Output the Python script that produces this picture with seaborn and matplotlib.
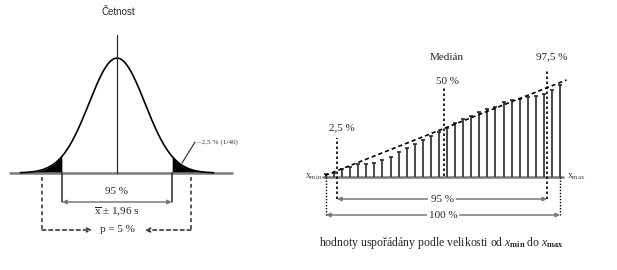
import numpy as np
import pandas as pd
import matplotlib
matplotlib.use("Agg")
import matplotlib.pyplot as plt
import seaborn as sns

# ---------------- data ----------------
# left panel: normal distribution (units of s around the mean)
curve_mean = 0.0
curve_sd = 1.0
z_crit = 1.96
tail_label = "– 2,5 % (1/40)"

# right panel: values ordered from x_min to x_max (stem heights)
stem_heights = [3, 4.3, 7.7, 10.3, 12.7, 13.3, 13.7, 16.7, 20.3, 25.2,
                28.7, 33, 37, 41.3, 45.3, 49.3, 54.3, 58.3, 61.5, 65.3,
                68, 69.7, 75.3, 77, 78.3, 79.7, 81, 83.3, 86.7, 92]
trend_x = [-0.12, 29.8]
trend_y = [1.5, 97]
pct_labels = ["2,5 %", "50 %", "97,5 %"]
pct_pos = [1.36, 14.66, 27.4]

# ---------------- style ----------------
sns.set_theme(style="white")
plt.rcParams['font.family'] = ['Liberation Serif', 'DejaVu Serif']
plt.rcParams['mathtext.fontset'] = 'custom'
plt.rcParams['mathtext.rm'] = 'Liberation Serif'
plt.rcParams['mathtext.it'] = 'Liberation Serif:italic'
plt.rcParams['mathtext.bf'] = 'Liberation Serif:bold'

GRAY = '#7a7a7a'
DARK = '#2a2a2a'

fig = plt.figure(figsize=(6.17, 2.70), dpi=100)

# ---------------- left panel ----------------
SX, SY = 28.0, 288.0          # pixels per unit
axL = fig.add_axes([0, 0, 240 / 617, 1])
axL.set_xlim(-117 / SX, 123 / SX)
axL.set_ylim((173 - 270) / SY, 173 / SY)
axL.axis('off')

z = np.linspace(-3.45, 3.45, 500)
pdf = np.exp(-0.5 * ((z - curve_mean) / curve_sd) ** 2) / (curve_sd * np.sqrt(2 * np.pi))
curve = pd.DataFrame({'z': z, 'f': pdf})
sns.lineplot(data=curve, x='z', y='f', ax=axL, color='black', lw=1.2)
axL.fill_between(z, 0, pdf, where=z <= -z_crit, color='black', lw=0)
axL.fill_between(z, 0, pdf, where=z >= z_crit, color='black', lw=0)

# baseline and vertical axis
axL.plot([-3.82, 4.11], [0, 0], color=GRAY, lw=1.8, zorder=1)
axL.plot([0, 0], [0, 0.479], color=DARK, lw=0.9)

# +/- 1.96 s bars and arrow
y_arr = -29 / SY
for s in (-1, 1):
    axL.plot([s * z_crit, s * z_crit], [0, y_arr], color=DARK, lw=1.1)
axL.annotate('', xy=(-z_crit, y_arr), xytext=(z_crit, y_arr),
             arrowprops=dict(arrowstyle='<|-|>', color=GRAY, lw=1.1,
                             mutation_scale=6, shrinkA=0, shrinkB=0))
axL.text(0, -18 / SY, '95 %', ha='center', va='center', fontsize=8)
axL.text(0, -39 / SY, r'$\overline{\mathrm{x}}$ ± 1,96 s', ha='center', va='center', fontsize=8,
         bbox=dict(fc='white', ec='none', pad=0.3))

# p = 5 % dashed
y_p = -57 / SY
xl, xr = -75 / SX, 74 / SX
axL.plot([xl, xl], [-4 / SY, y_p], color=DARK, lw=1.1, ls=(0, (2.5, 2)))
axL.plot([xr, xr], [-4 / SY, y_p], color=DARK, lw=1.1, ls=(0, (2.5, 2)))
axL.annotate('', xy=(-25 / SX, y_p), xytext=(xl, y_p),
             arrowprops=dict(arrowstyle='->', color=DARK, lw=1.1, ls=(0, (2.5, 2)),
                             mutation_scale=7, shrinkA=0, shrinkB=0))
axL.annotate('', xy=(28 / SX, y_p), xytext=(xr, y_p),
             arrowprops=dict(arrowstyle='->', color=DARK, lw=1.1, ls=(0, (2.5, 2)),
                             mutation_scale=7, shrinkA=0, shrinkB=0))
axL.text(0, y_p, 'p = 5 %', ha='center', va='center', fontsize=8)

# title
axL.text(1 / SX, 161 / SY, 'Četnost', ha='center', va='center', fontsize=7,
         family=['Liberation Sans', 'DejaVu Sans'])

# tail annotation
axL.plot([65 / SX, 78 / SX], [10 / SY, 31 / SY], color=DARK, lw=0.8)
axL.text(79 / SX, 31 / SY, tail_label, ha='left', va='center', fontsize=5.2,
         color='#333333', clip_on=False)

# ---------------- right panel ----------------
DX = 8.07
axR = fig.add_axes([240 / 617, 0, 377 / 617, 1])
axR.set_xlim((240 - 326) / DX, (617 - 326) / DX)
axR.set_ylim(177 - 270, 177)
axR.axis('off')

idx = np.arange(len(stem_heights))
axR.plot([-0.37, 29.4], [0, 0], color=GRAY, lw=1.8, zorder=1)
axR.vlines(idx, 0, stem_heights, color='#3a3a3a', lw=1.3, zorder=2)
stems = pd.DataFrame({'i': idx, 'v': stem_heights})
sns.scatterplot(data=stems, x='i', y='v', ax=axR, marker='_', s=6,
                color='#2a2a2a', linewidth=1.2, zorder=3)

sns.lineplot(x=trend_x, y=trend_y, ax=axR, color='black', lw=1.2,
             linestyle=(0, (2.5, 1.8)), zorder=4)

# percentile lines
pct_top = [39, 89, 107]
pct_bot = [-22, 1, -22]
for p, t, b in zip(pct_pos, pct_top, pct_bot):
    axR.plot([p, p], [b, t], color='black', lw=1.2, ls=(0, (1.5, 1.5)), zorder=5)
axR.plot([0, 0], [0, -38], color='black', lw=1.0, ls=(0, (1, 1.2)))
axR.plot([29, 29], [0, -38], color='black', lw=1.0, ls=(0, (1, 1.2)))

axR.text(1.98, 49, pct_labels[0], ha='center', va='center', fontsize=8)
axR.text(15.1, 96, pct_labels[1], ha='center', va='center', fontsize=8)
axR.text(14.9, 120, 'Medián', ha='center', va='center', fontsize=8)
axR.text(28.0, 120, pct_labels[2], ha='center', va='center', fontsize=8)

# 95 % and 100 % arrows
for (a, b, y, lab) in [(pct_pos[0], pct_pos[2], -22, '95 %'), (0, 29, -38, '100 %')]:
    axR.annotate('', xy=(a, y), xytext=(b, y),
                 arrowprops=dict(arrowstyle='<|-|>', color=GRAY, lw=1.1,
                                 mutation_scale=6, shrinkA=0, shrinkB=0))
    axR.text((a + b) / 2, y, lab, ha='center', va='center', fontsize=8,
             bbox=dict(fc='white', ec='none', pad=1.5), zorder=6)

axR.text(-0.5, 0, r'$\mathrm{x}_{\mathrm{min}}$', ha='right', va='center', fontsize=7, color='#444444')
axR.text(29.9, 0, r'$\mathrm{x}_{\mathrm{max}}$', ha='left', va='center', fontsize=7, color='#444444')

axR.text(14.3, -66, r'hodnoty uspořádány podle velikosti od $x_{\mathbf{min}}$ do $x_{\mathbf{max}}$',
         ha='center', va='center', fontsize=8.5)

fig.savefig('out.png', dpi=100)
